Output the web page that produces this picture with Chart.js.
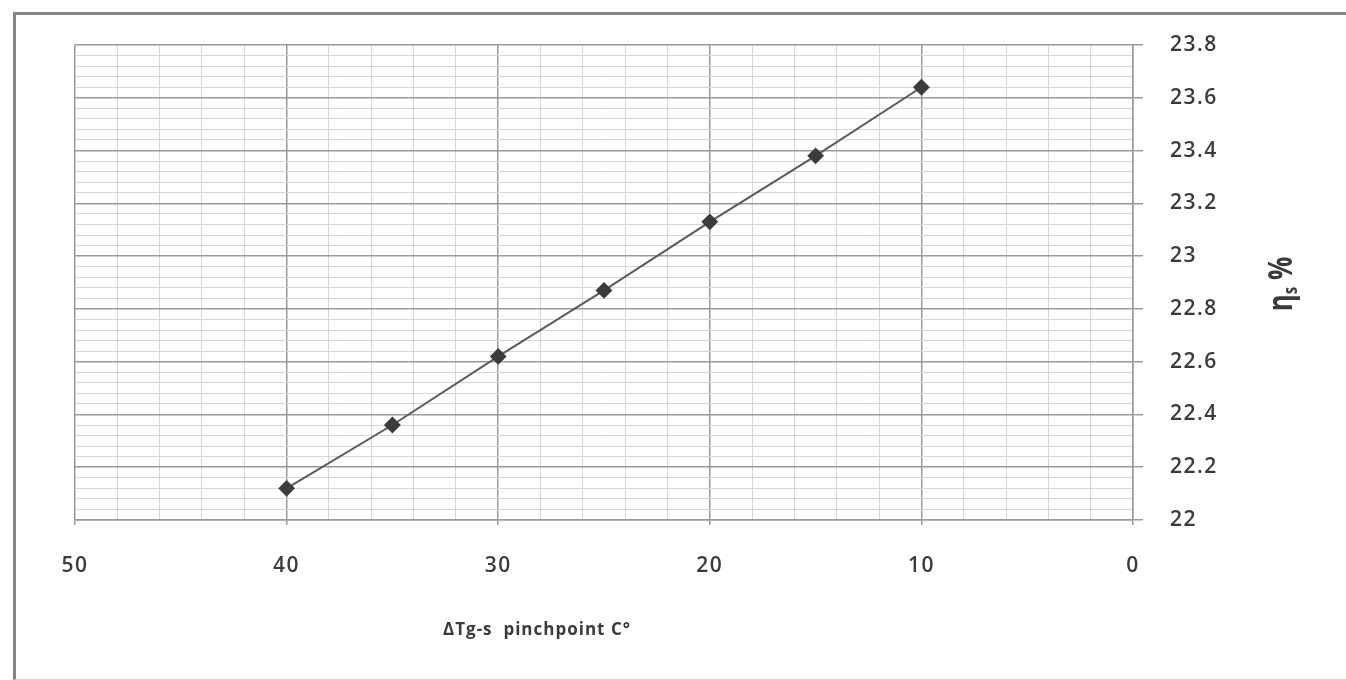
<!DOCTYPE html>
<html>
<head>
<meta charset="utf-8">
<script src="https://cdn.jsdelivr.net/npm/chart.js@4/dist/chart.umd.min.js"></script>
<style>
  html, body { margin: 0; padding: 0; background: #fff; }
  #wrap { position: relative; width: 1346px; height: 680px; overflow: hidden; }
  #frame {
    position: absolute; left: 13px; top: 12px; width: 1340px; height: 664px;
    border-left: 3px solid #858585; border-top: 3px solid #858585;
    border-bottom: 1px solid #d0d0d0;
  }
  canvas { position: absolute; left: 0; top: 0; }
</style>
</head>
<body>
<div id="wrap">
  <div id="frame"></div>
  <canvas id="chart" width="1346" height="680"></canvas>
</div>
<script>
// pinch point temperature difference (C) and efficiency (%)
const pinchPoints = [40, 35, 30, 25, 20, 15, 10];
const efficiency = [22.12, 22.36, 22.62, 22.87, 23.13, 23.38, 23.64];

const xMin = 0, xMax = 50, xMajor = 10, xMinor = 2;
const yMin = 22, yMax = 23.8, yMajor = 0.2, yMinor = 0.04;

const xTitle = "ΔTg-s  pinchpoint C°";

const textColor = "#3a3a3a";
const majorGrid = "#9a9a9a";
const minorGrid = "#d6d6d6";

function isMajor(v, step) {
    const r = v / step;
    return Math.abs(r - Math.round(r)) < 1e-6;
}

// a little letter spacing, the scan looks stretched
const spacingPlugin = {
    id: "spacing",
    beforeUpdate(chart) { chart.ctx.letterSpacing = "1.5px"; },
    beforeDraw(chart) { chart.ctx.letterSpacing = "1.5px"; }
};

// axis titles: x one sits left of the plot centre, y one reads bottom to top
const titlesPlugin = {
    id: "titles",
    afterDraw(chart) {
        const ctx = chart.ctx;
        ctx.save();
        ctx.fillStyle = textColor;
        ctx.letterSpacing = "1px";
        ctx.font = "bold 17px 'Open Sans'";
        ctx.textAlign = "center";
        ctx.textBaseline = "middle";
        ctx.fillText(xTitle, 537, 630);
        ctx.restore();

        ctx.save();
        ctx.letterSpacing = "0px";
        ctx.fillStyle = textColor;
        ctx.translate(1284, 284);
        ctx.scale(1.3, 1);
        ctx.rotate(-Math.PI / 2);
        ctx.textBaseline = "alphabetic";
        ctx.textAlign = "left";
        const big = "bold 26px 'Open Sans'";
        const small = "bold 15px 'Open Sans'";
        ctx.font = big;
        const wEta = ctx.measureText("η").width;
        const wPct = ctx.measureText(" %").width;
        ctx.font = small;
        const wS = ctx.measureText("s").width;
        let x = -(wEta + wS + wPct) / 2;
        const base = 6;
        ctx.font = big;
        ctx.fillText("η", x, base);
        x += wEta;
        ctx.font = small;
        ctx.fillText("s", x, base + 4);
        x += wS;
        ctx.font = big;
        ctx.fillText(" %", x, base);
        ctx.restore();
    }
};

new Chart(document.getElementById("chart"), {
    type: "line",
    data: {
        datasets: [{
            data: pinchPoints.map((p, i) => ({ x: p, y: efficiency[i] })),
            borderColor: "#5a5a5a",
            borderWidth: 2,
            pointStyle: "rectRot",
            pointRadius: 7,
            pointBackgroundColor: "#3c3c3c",
            pointBorderColor: "#3c3c3c",
            tension: 0
        }]
    },
    options: {
        responsive: false,
        animation: false,
        events: [],
        layout: { padding: { left: 75, top: 45, right: 0, bottom: 0 } },
        plugins: {
            legend: { display: false },
            tooltip: { enabled: false }
        },
        scales: {
            x: {
                type: "linear",
                reverse: true,
                min: xMin,
                max: xMax,
                afterFit: s => { s.height = 160; },
                ticks: {
                    stepSize: xMinor,
                    autoSkip: false,
                    maxRotation: 0,
                    padding: 28,
                    color: textColor,
                    font: { family: "'Open Sans'", size: 21, weight: "600" },
                    callback: v => isMajor(v, xMajor) ? String(v) : ""
                },
                grid: {
                    color: c => isMajor(c.tick.value, xMajor) ? majorGrid : minorGrid,
                    lineWidth: c => isMajor(c.tick.value, xMajor) ? 1.5 : 1,
                    tickColor: c => isMajor(c.tick.value, xMajor) ? majorGrid : "rgba(0,0,0,0)",
                    tickLength: 5
                },
                border: { color: majorGrid, width: 1.5 }
            },
            y: {
                type: "linear",
                position: "right",
                min: yMin,
                max: yMax,
                afterFit: s => { s.width = 213; },
                ticks: {
                    stepSize: yMinor,
                    autoSkip: false,
                    padding: 27,
                    color: textColor,
                    font: { family: "'Open Sans'", size: 21, weight: "600" },
                    callback: v => isMajor(v, yMajor) ? String(Math.round(v * 10) / 10) : ""
                },
                grid: {
                    color: c => isMajor(c.tick.value, yMajor) ? majorGrid : minorGrid,
                    lineWidth: c => isMajor(c.tick.value, yMajor) ? 1.5 : 1,
                    tickColor: c => isMajor(c.tick.value, yMajor) ? majorGrid : "rgba(0,0,0,0)",
                    tickLength: 10
                },
                border: { color: majorGrid, width: 1.5 }
            }
        }
    },
    plugins: [spacingPlugin, titlesPlugin]
});
</script>
</body>
</html>
